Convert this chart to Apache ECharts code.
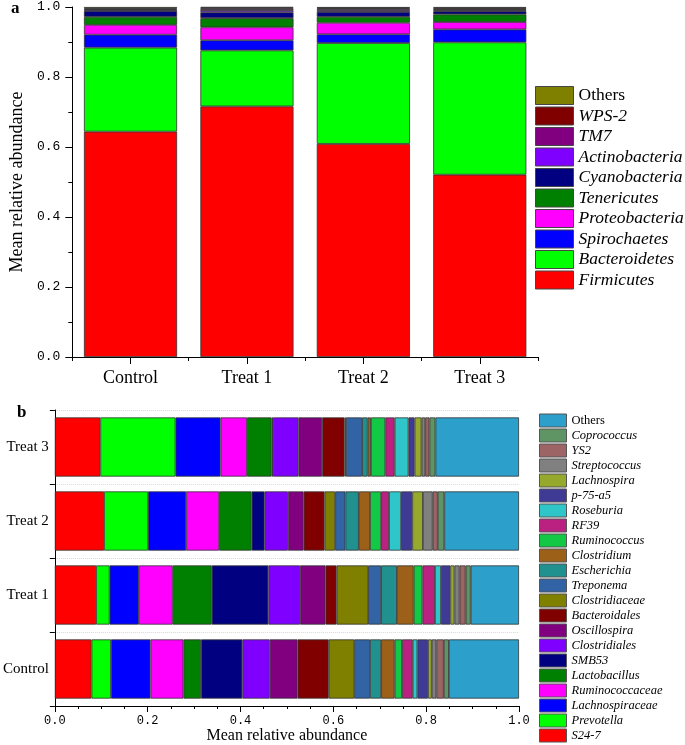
<!DOCTYPE html>
<html>
<head>
<meta charset="utf-8">
<script src="https://cdn.jsdelivr.net/npm/echarts@6/dist/echarts.min.js"></script>
<style>
html,body{margin:0;padding:0;background:#fff;}
#chart{width:685px;height:745px;}
</style>
</head>
<body>
<div id="chart"></div>
<script>
// ---- Panel a: phylum level ----
const groups = ['Control', 'Treat 1', 'Treat 2', 'Treat 3'];
const phyla = ['Firmicutes', 'Bacteroidetes', 'Spirochaetes', 'Proteobacteria', 'Tenericutes',
  'Cyanobacteria', 'Actinobacteria', 'TM7', 'WPS-2', 'Others'];
const phylumColors = ['#ff0000', '#00ff00', '#0000ff', '#ff00ff', '#008000',
  '#000080', '#8000ff', '#800080', '#800000', '#808000'];
// values per group, in phyla order
const phylaControl = [0.644, 0.240, 0.037, 0.028, 0.023, 0.017, 0.003, 0.002, 0.002, 0.004];
const phylaTreat1  = [0.716, 0.160, 0.029, 0.037, 0.026, 0.017, 0.006, 0.004, 0.003, 0.002];
const phylaTreat2  = [0.609, 0.288, 0.025, 0.033, 0.017, 0.014, 0.005, 0.004, 0.002, 0.003];
const phylaTreat3  = [0.521, 0.378, 0.037, 0.021, 0.022, 0.009, 0.003, 0.003, 0.003, 0.003];

// ---- Panel b: genus level ----
const genera = ['S24-7', 'Prevotella', 'Lachnospiraceae', 'Ruminococcaceae', 'Lactobacillus',
  'SMB53', 'Clostridiales', 'Oscillospira', 'Bacteroidales', 'Clostridiaceae', 'Treponema',
  'Escherichia', 'Clostridium', 'Ruminococcus', 'RF39', 'Roseburia', 'p-75-a5', 'Lachnospira',
  'Streptococcus', 'YS2', 'Coprococcus', 'Others'];
const genusColors = ['#ff0000', '#00ff00', '#0000ff', '#ff00ff', '#008000', '#000080', '#8000ff',
  '#800080', '#800000', '#808000', '#3163a5', '#21918f', '#9c6019', '#12c844', '#bb2181',
  '#2fc6c9', '#3f3b95', '#96a92c', '#808080', '#9c6464', '#5f9464', '#2c9fcb'];
const generaControl = [0.079, 0.042, 0.085, 0.071, 0.038, 0.089, 0.059, 0.060, 0.067, 0.055, 0.034,
  0.024, 0.029, 0.016, 0.023, 0.010, 0.023, 0.008, 0.010, 0.016, 0.011, 0.151];
const generaTreat1 = [0.089, 0.029, 0.063, 0.073, 0.084, 0.122, 0.068, 0.055, 0.024, 0.068, 0.028,
  0.034, 0.036, 0.019, 0.027, 0.013, 0.020, 0.009, 0.011, 0.013, 0.011, 0.104];
const generaTreat2 = [0.106, 0.095, 0.082, 0.071, 0.070, 0.028, 0.050, 0.034, 0.045, 0.023, 0.022,
  0.029, 0.024, 0.024, 0.017, 0.026, 0.024, 0.023, 0.021, 0.011, 0.014, 0.161];
const generaTreat3 = [0.098, 0.162, 0.097, 0.057, 0.053, 0.003, 0.055, 0.051, 0.048, 0.003, 0.035,
  0.012, 0.007, 0.031, 0.020, 0.030, 0.013, 0.015, 0.008, 0.009, 0.013, 0.180];

const yTicks = [0, 0.2, 0.4, 0.6, 0.8, 1.0];

const phylaByGroup = [phylaControl, phylaTreat1, phylaTreat2, phylaTreat3];
const generaByGroup = [generaControl, generaTreat1, generaTreat2, generaTreat3];

const SERIF = '"Liberation Serif", "Times New Roman", serif';
const MONO = '"Liberation Mono", monospace';

const nameA = n => n === 'Others' ? 'Others (phylum)' : n;
const nameB = n => n === 'Others' ? 'Others (genus)' : n;

const seriesA = phyla.map((p, i) => ({
  name: nameA(p), type: 'bar', stack: 'a', xAxisIndex: 0, yAxisIndex: 0,
  barWidth: '80%',
  itemStyle: { color: phylumColors[i], borderColor: '#333', borderWidth: 0.8 },
  data: phylaByGroup.map(g => g[i])
}));
const seriesB = genera.map((g, i) => ({
  name: nameB(g), type: 'bar', stack: 'b', xAxisIndex: 2, yAxisIndex: 1,
  barWidth: '80%',
  itemStyle: { color: genusColors[i], borderColor: '#333', borderWidth: 0.8 },
  data: generaByGroup.map(v => v[i])
}));

const legendFmt = n => n.indexOf('Others') === 0 ? '{n|Others}' : '{i|' + n + '}';

const chart = echarts.init(document.getElementById('chart'), null, { renderer: 'canvas' });
chart.setOption({
  animation: false,
  backgroundColor: '#fff',
  title: [
    { text: 'a', left: 11, top: 0, padding: 0, textStyle: { fontFamily: SERIF, fontWeight: 'bold', fontSize: 17, color: '#000' } },
    { text: 'b', left: 17, top: 404, padding: 0, textStyle: { fontFamily: SERIF, fontWeight: 'bold', fontSize: 17, color: '#000' } }
  ],
  grid: [
    { left: 65, right: 147, top: 7, bottom: 388 },
    { left: 54, right: 166, top: 410, bottom: 38 }
  ],
  legend: [
    {
      orient: 'vertical', left: 535, top: 86, padding: 0, height: 320,
      itemWidth: 38, itemHeight: 18, itemGap: 1.5,
      icon: 'rect', selectedMode: false,
      itemStyle: { borderColor: '#444', borderWidth: 1 },
      data: phyla.slice().reverse().map(nameA),
      formatter: legendFmt,
      textStyle: {
        color: '#000',
        rich: {
          n: { fontFamily: SERIF, fontSize: 17.5, fontStyle: 'normal', color: '#000' },
          i: { fontFamily: SERIF, fontSize: 17.5, fontStyle: 'italic', color: '#000' }
        }
      }
    },
    {
      orient: 'vertical', left: 539, top: 413.5, padding: 0, height: 420,
      itemWidth: 27, itemHeight: 13, itemGap: 1,
      icon: 'rect', selectedMode: false,
      itemStyle: { borderColor: '#555', borderWidth: 1 },
      data: genera.slice().reverse().map(nameB),
      formatter: legendFmt,
      textStyle: {
        color: '#000',
        rich: {
          n: { fontFamily: SERIF, fontSize: 12.5, fontStyle: 'normal', color: '#000' },
          i: { fontFamily: SERIF, fontSize: 12.5, fontStyle: 'italic', color: '#000' }
        }
      }
    }
  ],
  xAxis: [
    {
      type: 'category', gridIndex: 0, data: groups, position: 'bottom',
      axisLine: { show: true, lineStyle: { color: '#000', width: 1 } },
      axisTick: { show: true, alignWithLabel: true, length: 7, lineStyle: { color: '#000' } },
      axisLabel: { fontFamily: SERIF, fontSize: 18, color: '#000', margin: 12 },
      splitLine: { show: false }
    },
    {
      type: 'category', gridIndex: 0, data: groups, position: 'bottom',
      axisLine: { show: false },
      axisTick: { show: true, length: 4, lineStyle: { color: '#000' } },
      axisLabel: { show: false },
      splitLine: { show: false }
    },
    {
      type: 'value', gridIndex: 1, min: 0, max: 1, interval: 0.2,
      axisLine: { show: true, lineStyle: { color: '#000', width: 1 } },
      axisTick: { show: true, length: 6, lineStyle: { color: '#000' } },
      minorTick: { show: true, splitNumber: 4, length: 3, lineStyle: { color: '#000' } },
      axisLabel: { fontFamily: MONO, fontSize: 12, color: '#000', margin: 9, formatter: v => v.toFixed(1) },
      splitLine: { show: false },
      name: 'Mean relative abundance', nameLocation: 'middle', nameGap: 22,
      nameTextStyle: { fontFamily: SERIF, fontSize: 16, color: '#000' }
    }
  ],
  yAxis: [
    {
      type: 'value', gridIndex: 0, min: yTicks[0], max: yTicks[yTicks.length - 1], interval: 0.2,
      axisLine: { show: true, lineStyle: { color: '#000', width: 1 } },
      axisTick: { show: true, length: 7, lineStyle: { color: '#000' } },
      minorTick: { show: true, splitNumber: 2, length: 4, lineStyle: { color: '#000' } },
      axisLabel: { fontFamily: MONO, fontSize: 13, color: '#000', margin: 12, formatter: v => v.toFixed(1) },
      splitLine: { show: false },
      name: 'Mean relative abundance', nameLocation: 'middle', nameGap: 40,
      nameTextStyle: { fontFamily: SERIF, fontSize: 18, color: '#000' }
    },
    {
      type: 'category', gridIndex: 1, data: groups,
      axisLine: { show: true, lineStyle: { color: '#000', width: 1 } },
      axisTick: { show: true, length: 5, lineStyle: { color: '#000' } },
      axisLabel: { fontFamily: SERIF, fontSize: 15, color: '#000', margin: 6 },
      splitLine: { show: true, lineStyle: { color: '#d8d8d8', type: 'dotted', width: 1 } }
    }
  ],
  series: seriesA.concat(seriesB)
});
</script>
</body>
</html>
